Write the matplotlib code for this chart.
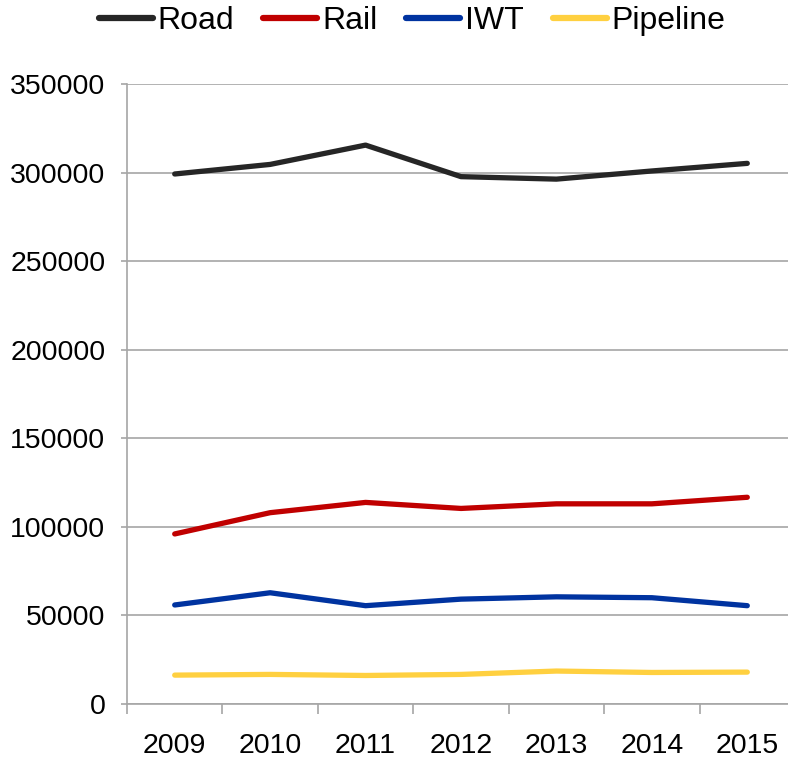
import matplotlib.pyplot as plt
import numpy as np

# data
years = ['2009', '2010', '2011', '2012', '2013', '2014', '2015']
road = [299200, 304600, 315500, 297700, 296300, 300900, 305200]
rail = [96000, 108000, 113800, 110400, 113000, 113000, 116700]
iwt = [55900, 62800, 55500, 59200, 60500, 60000, 55500]
pipeline = [16300, 16700, 16100, 16700, 18600, 17800, 18000]

plt.rcParams['font.family'] = ['Liberation Sans', 'DejaVu Sans']

fig = plt.figure(figsize=(7.88, 7.59), dpi=100)
ax = fig.add_axes([127 / 788, 55 / 759, 668 / 788, 620 / 759])

x = np.arange(len(years))
lw = 3.8
ax.plot(x, road, color='#262626', lw=lw, solid_capstyle='round', label='Road')
ax.plot(x, rail, color='#C00000', lw=lw, solid_capstyle='round', label='Rail')
ax.plot(x, iwt, color='#0033A0', lw=lw, solid_capstyle='round', label='IWT')
ax.plot(x, pipeline, color='#FFD040', lw=lw, solid_capstyle='round', label='Pipeline')

ax.set_xlim(-0.5, len(years) - 0.5)
ax.set_ylim(0, 350000)
ax.set_yticks(np.arange(0, 350001, 50000))
ax.set_yticklabels([str(v) for v in range(0, 350001, 50000)])
ax.set_xticks(x)
ax.set_xticklabels(years)
ax.set_xticks(np.arange(-0.5, len(years) - 0.5, 1), minor=True)

ax.grid(axis='y', color='#A6A6A6', lw=1.2)
ax.set_axisbelow(True)
for s in ['top', 'right']:
    ax.spines[s].set_visible(False)
for s in ['left', 'bottom']:
    ax.spines[s].set_color('#A6A6A6')
    ax.spines[s].set_linewidth(1.2)

ax.tick_params(axis='y', length=4.5, width=1.2, color='#A6A6A6', pad=11, labelsize=20.5)
ax.tick_params(axis='x', which='major', length=0, pad=21, labelsize=20.5)
ax.tick_params(axis='x', which='minor', length=7.2, width=1.2, color='#A6A6A6')

leg = fig.legend(loc='center', bbox_to_anchor=(0.523, 0.972), ncol=4, frameon=False,
                 fontsize=23, handlelength=1.7, handletextpad=0.15, columnspacing=0.9)
for h in leg.get_lines():
    h.set_linewidth(4.5)

plt.savefig('out.png', dpi=100)
